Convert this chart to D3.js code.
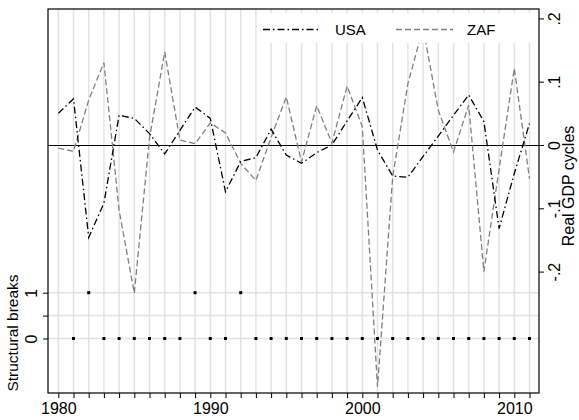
<!DOCTYPE html>
<html>
<head>
<meta charset="utf-8">
<script src="https://cdn.jsdelivr.net/npm/d3@7"></script>
<style>
  body { margin: 0; background: #fff; }
  text { font-family: "Liberation Sans", Arial, sans-serif; fill: #000; }
</style>
</head>
<body>
<div id="chart"></div>
<script>
const FRAME_WIDTH = 579;
const FRAME_HEIGHT = 420;
const PLOT = {left: 48, right: 539, top: 9, bottom: 393};

// data
const years = d3.range(1980, 2012);
const usa = [0.050, 0.073, -0.146, -0.092, 0.047, 0.042, 0.018, -0.014, 0.023, 0.060,
             0.042, -0.074, -0.026, -0.020, 0.025, -0.016, -0.029, -0.012, 0.000, 0.038,
             0.075, -0.008, -0.049, -0.051, -0.018, 0.014, 0.047, 0.079, 0.037, -0.132,
             -0.045, 0.034];
const zaf = [-0.005, -0.010, 0.071, 0.130, -0.103, -0.234, 0.011, 0.147, 0.008, 0.002,
             0.035, 0.019, -0.029, -0.056, 0.012, 0.076, -0.027, 0.062, 0.003, 0.093,
             0.029, -0.382, -0.050, 0.097, 0.185, 0.055, -0.011, 0.063, -0.200, -0.038,
             0.121, -0.053];
const breaks = [null, 0, 1, 0, 0, 0, 0, 0, 0, 1,
                0, 0, 1, 0, 0, 0, 0, 0, 0, 0,
                0, 0, 0, 0, 0, 0, 0, 0, 0, 0,
                0, 0];
const xTicks = [1980, 1990, 2000, 2010];
const rTicks = [-0.2, -0.1, 0, 0.1, 0.2];
const lTicks = [0, 0.5, 1];

const X_SCALE = d3.scaleLinear().domain([1980, 2010]).range([58.3, 514.3]);
const Y_R = d3.scaleLinear().domain([-0.2, 0.2]).range([271.6, 18.4]);
const Y_L = d3.scaleLinear().domain([0, 1]).range([338.5, 292.7]);

const svg = d3.select("#chart").append("svg")
  .attr("width", FRAME_WIDTH)
  .attr("height", FRAME_HEIGHT);

const fmt = v => v === 0 ? "0" : (v < 0 ? "-" : "") + String(Math.abs(v)).replace(/^0/, "");

// vertical grid, one per year
svg.append("g").selectAll("line")
  .data(years).enter().append("line")
    .attr("x1", d => X_SCALE(d)).attr("x2", d => X_SCALE(d))
    .attr("y1", PLOT.top).attr("y2", PLOT.bottom)
    .attr("stroke", "#e3e3e3").attr("stroke-width", 1.5);

// horizontal grid for breaks axis
svg.append("g").selectAll("line")
  .data(lTicks).enter().append("line")
    .attr("x1", PLOT.left).attr("x2", PLOT.right)
    .attr("y1", d => Y_L(d)).attr("y2", d => Y_L(d))
    .attr("stroke", "#e3e3e3").attr("stroke-width", 1.5);

// zero line
svg.append("line")
  .attr("x1", PLOT.left).attr("x2", PLOT.right)
  .attr("y1", Y_R(0) + 0.5).attr("y2", Y_R(0) + 0.5)
  .attr("stroke", "#000").attr("stroke-width", 1.2);

const line = d3.line().x((d, i) => X_SCALE(years[i])).y(d => Y_R(d));

svg.append("path").datum(zaf)
  .attr("d", line).attr("fill", "none")
  .attr("stroke", "#808080").attr("stroke-width", 1.3)
  .attr("stroke-dasharray", "6,3");

svg.append("path").datum(usa)
  .attr("d", line).attr("fill", "none")
  .attr("stroke", "#000").attr("stroke-width", 1.3)
  .attr("stroke-dasharray", "7,3,1.5,3");

// structural break markers
svg.append("g").selectAll("rect")
  .data(years.map((y, i) => ({year: y, v: breaks[i]})).filter(d => d.v !== null))
  .enter().append("rect")
    .attr("x", d => X_SCALE(d.year) - 1.5).attr("y", d => Y_L(d.v) - 1.5)
    .attr("width", 3).attr("height", 3).attr("fill", "#000");

// legend
const lg = svg.append("g");
lg.append("rect").attr("x", 257).attr("y", 13).attr("width", 280).attr("height", 30).attr("fill", "#fff");
lg.append("line").attr("x1", 263).attr("x2", 320).attr("y1", 29.5).attr("y2", 29.5)
  .attr("stroke", "#000").attr("stroke-width", 1.3).attr("stroke-dasharray", "7,3,1.5,3");
lg.append("text").attr("x", 335).attr("y", 35).attr("font-size", 15).text("USA");
lg.append("line").attr("x1", 396).attr("x2", 453).attr("y1", 29.5).attr("y2", 29.5)
  .attr("stroke", "#808080").attr("stroke-width", 1.3).attr("stroke-dasharray", "6,3");
lg.append("text").attr("x", 467).attr("y", 35).attr("font-size", 15).text("ZAF");

// frame
svg.append("rect")
  .attr("x", PLOT.left).attr("y", PLOT.top)
  .attr("width", PLOT.right - PLOT.left).attr("height", PLOT.bottom - PLOT.top)
  .attr("fill", "none").attr("stroke", "#000").attr("stroke-width", 1.2);

// bottom axis
const xAxis = svg.append("g").attr("transform", `translate(0,${PLOT.bottom})`)
  .call(d3.axisBottom(X_SCALE).tickValues(years).tickSize(5).tickFormat(d => xTicks.includes(d) ? d : ""));
xAxis.select(".domain").remove();
xAxis.selectAll("text").attr("font-size", 16).attr("font-family", null).attr("dy", null).attr("y", 21);

// right axis
const rAxis = svg.append("g").attr("transform", `translate(${PLOT.right},0)`)
  .call(d3.axisRight(Y_R).tickValues(rTicks).tickSize(5).tickFormat(fmt));
rAxis.select(".domain").remove();
rAxis.selectAll("text")
  .attr("font-size", 16).attr("font-family", null)
  .attr("x", null).attr("dy", null)
  .attr("text-anchor", "middle")
  .attr("transform", "translate(21,0) rotate(-90)");

// left axis
const lAxis = svg.append("g").attr("transform", `translate(${PLOT.left},0)`)
  .call(d3.axisLeft(Y_L).tickValues(lTicks).tickSize(5).tickFormat(d => d === 0.5 ? "" : d));
lAxis.select(".domain").remove();
lAxis.selectAll("text")
  .attr("font-size", 16).attr("font-family", null)
  .attr("x", null).attr("dy", null)
  .attr("text-anchor", "middle")
  .attr("transform", "translate(-11,0) rotate(-90)");

// axis titles
svg.append("text")
  .attr("transform", "translate(574,186) rotate(-90)")
  .attr("text-anchor", "middle").attr("font-size", 16)
  .text("Real GDP cycles");
svg.append("text")
  .attr("transform", "translate(18,333) rotate(-90)")
  .attr("text-anchor", "middle").attr("font-size", 15.5)
  .text("Structural breaks");
</script>
</body>
</html>
